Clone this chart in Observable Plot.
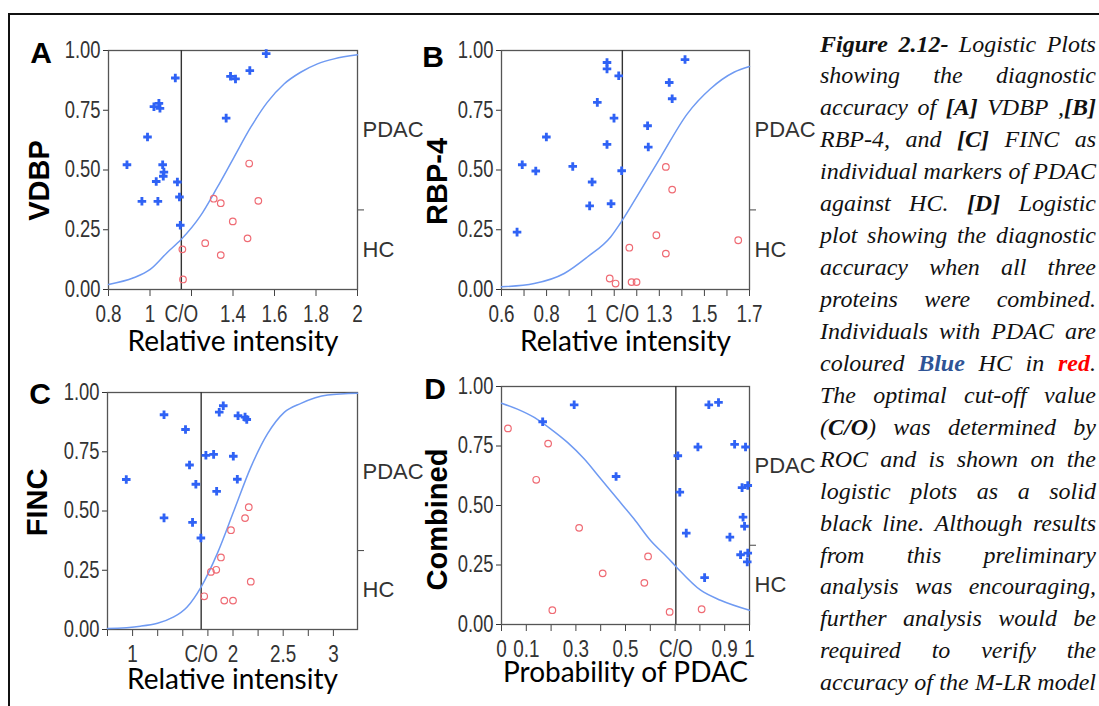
<!DOCTYPE html>
<html><head><meta charset="utf-8">
<script src="https://cdn.jsdelivr.net/npm/d3@7"></script>
<script src="https://cdn.jsdelivr.net/npm/@observablehq/plot@0.6"></script>
<style>
html,body{margin:0;padding:0;background:#fff;}
#page{position:relative;width:1099px;height:706px;overflow:hidden;background:#fff;}
.border{position:absolute;left:8px;top:13px;width:1100px;height:710px;border-top:2px solid #111;border-left:2px solid #111;}
.panel{position:absolute;}
#caption{position:absolute;left:820px;top:28.5px;width:276px;font-family:"Liberation Serif","DejaVu Serif","Times New Roman",serif;font-style:italic;font-size:24px;line-height:31.95px;color:#111;}
#caption .ln{display:flex;justify-content:space-between;white-space:nowrap;height:31.95px;}
#caption b{font-weight:bold;}
</style></head>
<body><div id="page"><div class="border"></div><div id="caption"></div></div>
<script>
// ---------- data ----------
const yTicks = [0, 0.25, 0.5, 0.75, 1];
const panelLetters = ["A", "B", "C", "D"];
const yTitles = ["VDBP", "RBP-4", "FINC", "Combined"];
const xTitles = ["Relative intensity", "Relative intensity", "Relative intensity", "Probability of PDAC"];
const cutoffs = [1.151, 1.136, 1.683, 0.703];
const hcShare = [0.333, 0.333, 0.333, 0.333];
const sideLabels = ["PDAC", "HC"];

// Panel A (VDBP)
const aPdacX = [0.889, 0.961, 0.988, 1.019, 1.043, 1.048, 1.030, 1.038, 1.061, 1.067, 1.064, 1.122, 1.132, 1.142, 1.146, 1.367, 1.388, 1.412, 1.481, 1.560];
const aPdacY = [0.522, 0.369, 0.638, 0.765, 0.779, 0.758, 0.452, 0.369, 0.522, 0.491, 0.474, 0.885, 0.450, 0.387, 0.269, 0.717, 0.892, 0.881, 0.916, 0.987];
const aHcX = [1.156, 1.159, 1.266, 1.307, 1.341, 1.341, 1.399, 1.470, 1.478, 1.522];
const aHcY = [0.168, 0.042, 0.194, 0.380, 0.361, 0.144, 0.285, 0.214, 0.527, 0.371];
const aCurveX = [0.8, 0.921, 1.001, 1.082, 1.151, 1.243, 1.324, 1.404, 1.485, 1.565, 1.646, 1.726, 1.807, 1.887, 2.0];
const aCurveY = [0.021, 0.049, 0.084, 0.154, 0.21, 0.308, 0.427, 0.552, 0.678, 0.783, 0.86, 0.909, 0.944, 0.965, 0.982];
const aTickMarks = [0.8, 1.0, 1.2, 1.4, 1.6, 1.8, 2.0];
const aTickLabels = [0.8, 1, 1.4, 1.6, 1.8, 2];

// Panel B (RBP-4)
const bPdacX = [0.669, 0.692, 0.752, 0.799, 0.916, 0.991, 1.002, 1.025, 1.068, 1.068, 1.068, 1.086, 1.099, 1.120, 1.133, 1.248, 1.251, 1.344, 1.357, 1.414];
const bPdacY = [0.240, 0.522, 0.496, 0.638, 0.515, 0.350, 0.450, 0.783, 0.950, 0.923, 0.607, 0.359, 0.717, 0.894, 0.497, 0.685, 0.596, 0.866, 0.798, 0.962];
const bHcX = [1.080, 1.106, 1.167, 1.177, 1.199, 1.287, 1.329, 1.329, 1.357, 1.650];
const bHcY = [0.046, 0.025, 0.175, 0.031, 0.031, 0.227, 0.513, 0.150, 0.418, 0.206];
const bCurveX = [0.6, 0.745, 0.878, 0.981, 1.084, 1.136, 1.217, 1.306, 1.424, 1.527, 1.631, 1.7];
const bCurveY = [0.011, 0.025, 0.067, 0.136, 0.22, 0.29, 0.415, 0.554, 0.735, 0.84, 0.909, 0.933];
const bTickMarks = [0.6, 0.7, 0.8, 0.9, 1.0, 1.1, 1.2, 1.3, 1.4, 1.5, 1.6, 1.7];
const bTickLabels = [0.6, 0.8, 1, 1.3, 1.5, 1.7];

// Panel C (FINC)
const cPdacX = [0.937, 1.313, 1.313, 1.527, 1.567, 1.597, 1.630, 1.680, 1.730, 1.807, 1.837, 1.863, 1.903, 2.003, 2.043, 2.050, 2.120, 2.137];
const cPdacY = [0.633, 0.906, 0.471, 0.844, 0.694, 0.452, 0.613, 0.386, 0.735, 0.739, 0.583, 0.917, 0.944, 0.731, 0.634, 0.902, 0.896, 0.886];
const cHcX = [1.713, 1.780, 1.833, 1.880, 1.913, 1.980, 2.000, 2.120, 2.157, 2.177];
const cHcY = [0.140, 0.243, 0.252, 0.304, 0.122, 0.419, 0.122, 0.470, 0.516, 0.202];
const cCurveX = [0.75, 1.077, 1.41, 1.543, 1.683, 1.843, 2.01, 2.177, 2.343, 2.51, 2.677, 2.943, 3.24];
const cCurveY = [0.004, 0.014, 0.053, 0.095, 0.18, 0.32, 0.502, 0.684, 0.825, 0.916, 0.954, 0.989, 0.997];
const cTickMarks = [0.75, 1.0, 1.25, 1.5, 1.75, 2.0, 2.25, 2.5, 2.75, 3.0];
const cTickLabels = [1, 2, 2.5, 3];

// Panel D (Combined)
const dPdacX = [0.166, 0.293, 0.462, 0.711, 0.719, 0.745, 0.792, 0.819, 0.836, 0.875, 0.921, 0.940, 0.964, 0.970, 0.974, 0.980, 0.984, 0.993, 0.993, 0.991];
const dPdacY = [0.852, 0.923, 0.622, 0.709, 0.556, 0.384, 0.746, 0.197, 0.923, 0.933, 0.367, 0.757, 0.293, 0.575, 0.451, 0.413, 0.746, 0.584, 0.300, 0.263];
const dHcX = [0.026, 0.140, 0.188, 0.205, 0.313, 0.408, 0.576, 0.591, 0.678, 0.807];
const dHcY = [0.824, 0.608, 0.760, 0.060, 0.406, 0.215, 0.175, 0.286, 0.053, 0.064];
const dCurveX = [0, 0.064, 0.132, 0.199, 0.266, 0.333, 0.4, 0.467, 0.534, 0.601, 0.668, 0.703, 0.803, 0.883, 1.0];
const dCurveY = [0.930, 0.905, 0.870, 0.821, 0.765, 0.696, 0.612, 0.528, 0.444, 0.353, 0.283, 0.244, 0.144, 0.102, 0.060];
const dTickMarks = [0, 0.1, 0.2, 0.3, 0.4, 0.5, 0.6, 0.7, 0.8, 0.9, 1.0];
const dTickLabels = [0, 0.1, 0.3, 0.5, 0.9, 1];

// caption lines (words)
const captionLines = [
  ["<b>Figure</b>", "<b>2.12-</b>", "Logistic", "Plots"],
  ["showing", "the", "diagnostic"],
  ["accuracy", "of", "<b>[A]</b>", "VDBP", ",<b>[B]</b>"],
  ["RBP-4,", "and", "<b>[C]</b>", "FINC", "as"],
  ["individual", "markers", "of", "PDAC"],
  ["against", "HC.", "<b>[D]</b>", "Logistic"],
  ["plot", "showing", "the", "diagnostic"],
  ["accuracy", "when", "all", "three"],
  ["proteins", "were", "combined."],
  ["Individuals", "with", "PDAC", "are"],
  ["coloured", "<b style='color:#2F5496'>Blue</b>", "HC", "in", "<b style='color:#FF0000'>red</b>."],
  ["The", "optimal", "cut-off", "value"],
  ["(<b>C/O</b>)", "was", "determined", "by"],
  ["ROC", "and", "is", "shown", "on", "the"],
  ["logistic", "plots", "as", "a", "solid"],
  ["black", "line.", "Although", "results"],
  ["from", "this", "preliminary"],
  ["analysis", "was", "encouraging,"],
  ["further", "analysis", "would", "be"],
  ["required", "to", "verify", "the"],
  ["accuracy", "of", "the", "M-LR", "model"]
];

// ---------- layout ----------
const TICK_FONT = "'Liberation Sans',Arial,sans-serif";
const panels = [
  {pdacX: aPdacX, pdacY: aPdacY, hcX: aHcX, hcY: aHcY, curveX: aCurveX, curveY: aCurveY, domain: [0.8, 2.0],
   tickMarks: aTickMarks, tickLabels: aTickLabels, left: 10, top: 20, frame: [108, 357, 50, 289],
   letterDx: -67.5, letterDy: 12, yTitleDx: -69, yTitleDy: 10.5, xTitleDy: 61},
  {pdacX: bPdacX, pdacY: bPdacY, hcX: bHcX, hcY: bHcY, curveX: bCurveX, curveY: bCurveY, domain: [0.6, 1.7],
   tickMarks: bTickMarks, tickLabels: bTickLabels, left: 400, top: 20, frame: [501, 749, 50, 289],
   letterDx: -68.5, letterDy: 16, yTitleDx: -64, yTitleDy: 11.5, xTitleDy: 61},
  {pdacX: cPdacX, pdacY: cPdacY, hcX: cHcX, hcY: cHcY, curveX: cCurveX, curveY: cCurveY, domain: [0.75, 3.24],
   tickMarks: cTickMarks, tickLabels: cTickLabels, left: 10, top: 360, frame: [107, 357, 392, 629],
   letterDx: -67.5, letterDy: 11, yTitleDx: -70, yTitleDy: -8.5, xTitleDy: 59},
  {pdacX: dPdacX, pdacY: dPdacY, hcX: dHcX, hcY: dHcY, curveX: dCurveX, curveY: dCurveY, domain: [0, 1],
   tickMarks: dTickMarks, tickLabels: dTickLabels, left: 400, top: 355, frame: [501, 749, 386, 624],
   letterDx: -66.5, letterDy: 12, yTitleDx: -64, yTitleDy: 14, xTitleDy: 57.5}
];

// narrow (condensed) look of the original tick labels
function condense(svg, selector, k) {
  svg.querySelectorAll(selector).forEach(t => {
    const tr = t.getAttribute("transform") || "";
    t.setAttribute("transform", tr + ` scale(${k},1)`);
  });
}

const page = document.getElementById("page");
panels.forEach((p, i) => {
  const W = 390, H = 340;
  const [fl, fr, ft, fb] = p.frame;
  const cut = cutoffs[i];
  const share = hcShare[i];
  const pdac = p.pdacX.map((x, k) => ({x, y: p.pdacY[k]}));
  const hc = p.hcX.map((x, k) => ({x, y: p.hcY[k]}));
  const curve = p.curveX.map((x, k) => ({x, y: p.curveY[k]}));
  const labelTicks = [...p.tickLabels, cut].sort((a, b) => a - b);
  const side = [{y: (1 + share) / 2, t: sideLabels[0]}, {y: share / 2, t: sideLabels[1]}];
  const chart = Plot.plot({
    width: W, height: H,
    marginLeft: fl - p.left, marginRight: W - (fr - p.left),
    marginTop: ft - p.top, marginBottom: H - (fb - p.top),
    x: {domain: p.domain},
    y: {domain: [0, 1]},
    style: {background: "transparent", overflow: "visible", fontFamily: TICK_FONT},
    marks: [
      Plot.axisX({ticks: p.tickMarks, tickSize: 7, tickFormat: () => "", color: "#444", label: null, ariaLabel: "x-tick-marks"}),
      Plot.axisX({ticks: labelTicks, tickSize: 0, tickPadding: 16, fontSize: 23, color: "#333", label: null,
                  tickFormat: v => v === cut ? "C/O" : String(v)}),
      Plot.axisY({ticks: yTicks, tickSize: 5, tickPadding: 3, fontSize: 23, color: "#333", label: null,
                  tickFormat: d3.format(".2f")}),
      Plot.axisY({anchor: "right", ticks: [share], tickSize: 6, tickFormat: () => "", color: "#444", label: null, ariaLabel: "y-share-tick"}),
      Plot.text(side, {y: "y", text: "t", frameAnchor: "right", dx: 5, textAnchor: "start", fontSize: 22, fill: "#333", ariaLabel: "side-label"}),
      Plot.frame({stroke: "#555", strokeWidth: 1.3}),
      Plot.ruleX([cut], {stroke: "#333", strokeWidth: 1.4}),
      Plot.line(curve, {x: "x", y: "y", stroke: "#6f9af2", strokeWidth: 1.5, curve: "monotone-x"}),
      Plot.dot(hc, {x: "x", y: "y", r: 3.3, stroke: "#ef6b74", fill: "none", strokeWidth: 1.2}),
      Plot.dot(pdac, {x: "x", y: "y", symbol: "cross", r: 3.6, fill: "#2f62f5", stroke: "none"}),
      Plot.text([panelLetters[i]], {frameAnchor: "top-left", dx: p.letterDx, dy: p.letterDy, lineAnchor: "bottom",
                  textAnchor: "middle", fontSize: 30, fontWeight: "bold", fill: "#000", ariaLabel: "panel-letter",
                  fontFamily: "'Liberation Sans',Arial,sans-serif"}),
      Plot.text([yTitles[i]], {frameAnchor: "left", rotate: -90, dx: p.yTitleDx, dy: p.yTitleDy, lineAnchor: "middle",
                  textAnchor: "middle", fontSize: 29, fontWeight: "bold", fill: "#000",
                  fontFamily: "'Liberation Sans',Arial,sans-serif"}),
      Plot.text([xTitles[i]], {frameAnchor: "bottom", dy: p.xTitleDy, lineAnchor: "bottom", textAnchor: "middle",
                  fontSize: 28, fill: "#000", fontFamily: "Lato,'Open Sans',sans-serif"})
    ]
  });
  condense(chart, '[aria-label="x-axis tick label"] text', 0.82);
  condense(chart, '[aria-label="y-axis tick label"] text', 0.8);
  condense(chart, '[aria-label="side-label"] text', 0.9);
  condense(chart, '[aria-label="panel-letter"] text', 0.8);
  chart.querySelectorAll('[aria-label="x-tick-marks"] text, [aria-label="y-share-tick"] text').forEach(t => t.remove());
  chart.classList.add("panel");
  chart.style.left = p.left + "px";
  chart.style.top = p.top + "px";
  page.appendChild(chart);
});

const cap = document.getElementById("caption");
captionLines.forEach(words => {
  const ln = document.createElement("div");
  ln.className = "ln";
  ln.innerHTML = words.map(w => "<span>" + w + "</span>").join("");
  cap.appendChild(ln);
});
</script>
</body></html>
